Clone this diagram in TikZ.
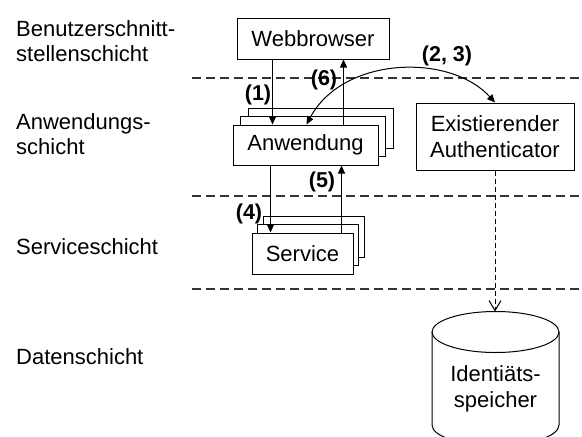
\documentclass[tikz,border=0pt]{standalone}
\usepackage{fontspec}
\setmainfont{Liberation Sans}
\usetikzlibrary{arrows.meta,calc}
\begin{document}
\begin{tikzpicture}[x=1pt,y=-1pt,
  box/.style={draw=black, line width=1pt, fill=white, inner sep=0pt, align=center,
    font=\fontsize{22}{25.5}\selectfont},
  layerlabel/.style={anchor=north west, inner sep=0pt, align=left,
    font=\fontsize{22}{25.5}\selectfont},
  steplabel/.style={inner sep=0pt, font=\bfseries\fontsize{21.5}{25}\selectfont},
  sep/.style={draw=black!80, line width=1.2pt, dash pattern=on 9pt off 5pt},
  tip/.tip={Triangle[length=8pt,width=7pt]},
  arr/.style={line width=1pt, -tip},
]
\useasboundingbox (0,0) rectangle (582,437);

% layer separators
\draw[sep] (192,78) -- (582,78);
\draw[sep] (192,196) -- (582,196);
\draw[sep] (192,289) -- (582,289);

% layer names
\node[layerlabel] (lui) at (16,20) {Benutzerschnitt-\\stellenschicht};
\node[layerlabel] (lapp) at (16,113) {Anwendungs-\\schicht};
\node[layerlabel] (lsvc) at (16,238) {Serviceschicht};
\node[layerlabel] (ldata) at (16,348) {Datenschicht};

% components
\node[box, minimum width=152pt, minimum height=41pt] (web) at (313,38.5) {Webbrowser};

\node[box, minimum width=145pt, minimum height=40pt] (app3) at (320.5,128) {};
\node[box, minimum width=145pt, minimum height=40pt] (app2) at (313,136.5) {};
\node[box, minimum width=145pt, minimum height=40pt] (app) at (305.5,145) {Anwendung};

\node[box, minimum width=101pt, minimum height=41pt] (svc3) at (313.5,236.5) {};
\node[box, minimum width=101pt, minimum height=41pt] (svc2) at (308,245) {};
\node[box, minimum width=101pt, minimum height=41pt] (svc) at (302.5,253.5) {Service};

\node[box, minimum width=158pt, minimum height=67pt] (auth) at (495,136.5)
  {Existierender\\Authenticator};

% identity store (cylinder)
\coordinate (storetop) at (495.5,311.5);
\draw[line width=1pt] (432,332) -- (432,425) arc[start angle=180, end angle=360,
  x radius=63.5pt, y radius=20.5pt] -- (559,332);
\draw[line width=1pt] (495.5,332) ellipse[x radius=63.5pt, y radius=20.5pt];
\node[inner sep=0pt, align=center, font=\fontsize{22}{25.5}\selectfont] (store)
  at (495.5,389) {Identiäts-\\speicher};

% calls
\draw[arr] ([xshift=36pt]web.south west) -- ([xshift=36pt]web.south west |- app.north);
\draw[arr] ([xshift=111pt]app.north west) -- ([xshift=111pt]app.north west |- web.south);
\draw[arr] ([xshift=38pt]app.south west) -- ([xshift=38pt]app.south west |- svc.north);
\draw[arr] ([xshift=90pt]svc.north west) -- ([xshift=90pt]svc.north west |- app.south);
\draw[line width=1pt, tip-tip] ([xshift=74pt]app.north west)
  .. controls (343,56) and (450,53) .. (auth.north);
\draw[line width=1pt, dash pattern=on 5pt off 3pt,
  -{Straight Barb[length=10pt,width=12pt]}] (auth.south) -- (auth.south |- storetop);

% step numbers
\node[steplabel] (s1) at (258,95) {(1)};
\node[steplabel] (s6) at (324,80) {(6)};
\node[steplabel] (s23) at (447,56) {(2, 3)};
\node[steplabel] (s5) at (322,182) {(5)};
\node[steplabel] (s4) at (249,214) {(4)};
\end{tikzpicture}
\end{document}
